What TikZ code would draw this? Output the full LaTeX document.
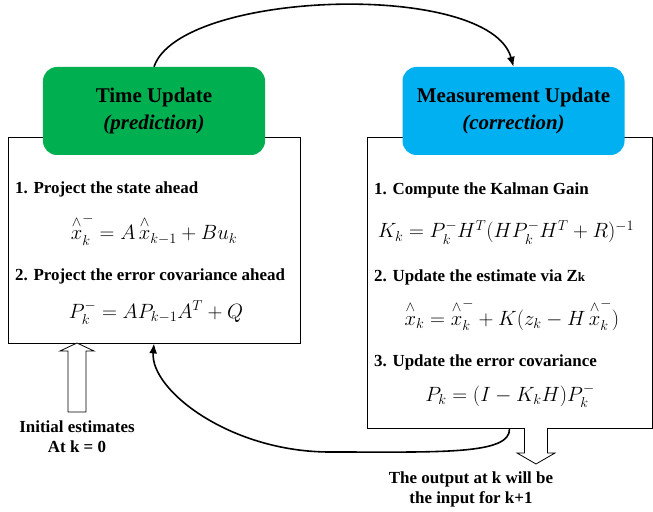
\documentclass[tikz,border=0pt]{standalone}
\usepackage{amsmath}
\usepackage[no-math]{fontspec}
\setmainfont{Liberation Serif}
\usetikzlibrary{arrows.meta}
\definecolor{tugreen}{RGB}{0,176,80}
\definecolor{mublue}{RGB}{0,176,240}
\newcommand{\xhat}{\overset{\wedge}{x}}

\begin{document}
\begin{tikzpicture}[x=1bp,y=-1bp,
  panel/.style={draw,line width=0.8pt,fill=white},
  header/.style={rounded corners=14bp,minimum width=222bp,minimum height=88bp,align=center,
    font=\bfseries\fontsize{21}{28}\selectfont},
  itemtext/.style={anchor=base west,inner sep=0pt,font=\bfseries\fontsize{17}{20}\selectfont},
  eqn/.style={anchor=base,font=\fontsize{20}{24}\selectfont},
  note/.style={align=center,font=\bfseries\fontsize{17}{20}\selectfont},
  conn/.style={line width=1.6pt,-{Latex[length=10bp,width=8bp]}},
  hollow/.style={draw,line width=0.8pt,fill=white}]
\useasboundingbox (0,0) rectangle (653,512);
% panels
\node[panel,minimum width=292bp,minimum height=206bp] (tbox) at (154,240) {};
\node[panel,minimum width=285bp,minimum height=291bp] (mbox) at (509.5,282.5) {};
% headers
\node[header,fill=tugreen] (tu) at (154,111) {Time Update\\\textit{(prediction)}};
\node[header,fill=mublue] (mu) at (513.5,111) {Measurement Update\\\textit{(correction)}};
% time update
\node[itemtext] (t1) at (15,194) {1. Project the state ahead};
\node[eqn] (te1) at (154,240) {$\xhat_k^{-}=A\,\xhat_{k-1}+Bu_k$};
\node[itemtext] (t2) at (15,280) {2. Project the error covariance ahead};
\node[eqn] (te2) at (156,318) {$P_k^{-}=AP_{k-1}A^T+Q$};
% measurement update
\node[itemtext] (m1) at (374,195) {1. Compute the Kalman Gain};
\node[eqn] (me1) at (506,238) {$K_k=P_k^{-}H^T(HP_k^{-}H^T+R)^{-1}$};
\node[itemtext] (m2) at (374,281) {2. Update the estimate via Z{\fontsize{13}{14}\selectfont k}};
\node[eqn] (me2) at (512,325) {$\xhat_k=\xhat_k^{-}+K(z_k-H\,\xhat_k^{-})$};
\node[itemtext] (m3) at (374,366) {3. Update the error covariance};
\node[eqn] (me3) at (510,401) {$P_k=(I-K_kH)P_k^{-}$};
% loop
\draw[conn] (tu.north) .. controls (180,-10) and (490,-20) .. (mu.north);
\draw[conn] (mbox.south) .. controls (511,455) and (440,452) .. (330,452)
  .. controls (230,452) and (150,390) .. (tbox.south);
% in / out
\draw[hollow] (68,412) -- (68,351) -- (60,351) -- (77,343) -- (94,351) -- (86,351) -- (86,412) -- cycle;
\node[note] (init) at (77,437) {Initial estimates\\At k = 0};
\draw[hollow] (524.5,428) -- (524.5,453) -- (517,453) -- (536,464) -- (555,453) -- (547.5,453) -- (547.5,428);
\node[note] (out) at (471,489) {The output at k will be\\the input for k+1};
\end{tikzpicture}
\end{document}
